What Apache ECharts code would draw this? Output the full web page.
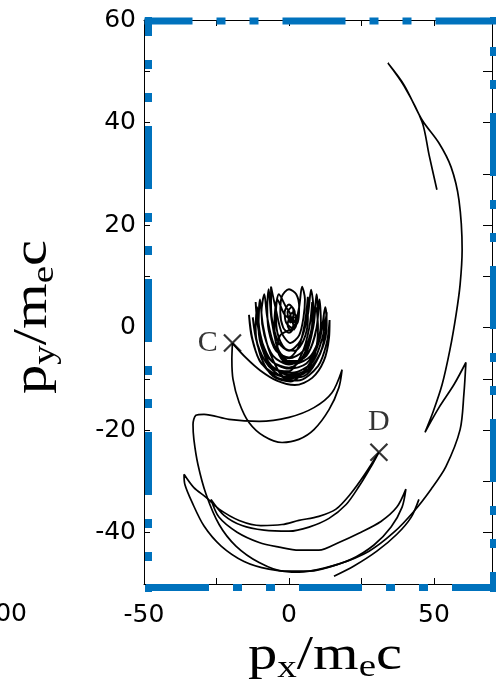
<!DOCTYPE html>
<html>
<head>
<meta charset="utf-8">
<script src="https://cdn.jsdelivr.net/npm/echarts@6/dist/echarts.min.js"></script>
<style>
  html, body { margin: 0; padding: 0; background: #fff; }
  #main { width: 496px; height: 691px; }
</style>
</head>
<body>
<div id="main"></div>
<script>
// tick labels that are printed
const xTicks = [-50, 0, 50]
const yTicks = [-40, -20, 0, 20, 40, 60]

// marked points
const markNames = ['C', 'D']
const markX = [-19.5, 31]
const markY = [-3, -24.3]

// right hand arc, bottom sweep and the crescent back to C
const outerPath = [
  [51.0, 26.9], [48.3, 33.7], [45.9, 40.1], [39.7, 47.1], [34.1, 51.6],
  [39.7, 47.3], [45.9, 40.5], [51.7, 36.0], [55.9, 31.3], [58.6, 24.9],
  [59.7, 15.2], [59.0, 8.4], [57.6, 2.5], [55.5, -4.3], [52.8, -11.1],
  [49.7, -16.4], [46.9, -20.4], [51.7, -15.6], [56.9, -11.1], [61.0, -6.8],
  [60.3, -13.0], [59.0, -19.9], [54.1, -27.1], [49.0, -31.5], [43.1, -35.8],
  [36.2, -39.9], [27.6, -43.6], [17.2, -46.1], [6.9, -47.5], [-1.7, -47.5],
  [-10.3, -45.8], [-18.3, -42.6], [-24.1, -38.4], [-28.6, -32.5], [-31.4, -26.7],
  [-32.8, -21.8], [-33.1, -18.9], [-32.1, -17.1], [-29.3, -16.9], [-20.7, -17.9],
  [-10.3, -18.3], [0, -17.5], [8.6, -15.6], [14.8, -12.7], [18.3, -8.2],
  [17.2, -11.7], [13.8, -16.0], [8.6, -19.9], [3.4, -21.8], [-2.4, -22.4],
  [-8.6, -21.2], [-13.8, -18.5], [-17.2, -14.6], [-19.3, -10.1], [-19.7, -6.2],
  [-19.5, -3]
]

// from C into the swinging loops round the origin
const blobPath = [
  [-19.5, -3], [-14.8, -5.9], [-9.8, -8.4], [-4, -10.4], [2, -11.2], [8, -9.8], [12, -6.5], [13.8, -2], [14, 1.5],
  [13, -3], [10, -7.5], [3, -10.3], [-4, -9.8], [-10, -6.5], [-12.8, -2], [-13.8, 2.5],
  [-12.5, -2.5], [-9.5, -7], [-2, -9.5], [5, -9], [10, -6], [12.5, -1.5], [13, 3],
  [11.5, -2], [8, -6.8], [1, -8.8], [-6, -7.8], [-10.5, -4], [-11.5, 0], [-11, 4],
  [-10, -1], [-7, -6], [0, -8], [6, -7], [9.5, -3.5], [11, 1], [10.5, 5.5],
  [9.5, 0], [6.5, -5], [0, -7.2], [-5.5, -5.5], [-8.5, -1.5], [-9.5, 3], [-8.5, 6.5],
  [-7.5, 2], [-5, -3.5], [0, -6], [5, -4.5], [7.5, -1], [8.5, 3], [7.6, 7.4],
  [6.5, 2.5], [4, -2.5], [0, -4.5], [-3.5, -3], [-5.5, 0.5], [-6.2, 4], [-6.2, 8],
  [-4.5, 3.5], [-2.5, -1], [0.5, -3], [3.5, -1.5], [5, 2], [5.5, 5.5], [4.5, 8],
  [3.5, 4], [2, 0.5], [0, -1], [-2, 0], [-3, 3], [-2.5, 6], [0, 7.5],
  [2.5, 6.5], [3.5, 4], [3, 1], [1, 0], [-1, 1], [-1.5, 3], [0, 4.5],
  [1.5, 3.5], [1.5, 1.5], [0.5, 1], [0, 2], [0.5, 2.5],
  [-1, 4], [-3.5, 6.5], [-4.5, 3], [-4, -1], [-1.5, -4], [2, -4.5], [5, -2.5], [6.5, 1.5], [6.5, 6],
  [5.5, 1], [3.5, -3.5], [0, -5.8], [-4.5, -4.5], [-7, -0.5], [-7.5, 4], [-7, 7.5],
  [-6, 1.5], [-3.5, -4.5], [1, -6.8], [6, -5.5], [9, -1.5], [10, 3], [9.5, 6.5],
  [8.5, 0.5], [5.5, -5.5], [0, -7.8], [-6, -6.5], [-9.5, -2.5], [-11, 1.5], [-11.5, 5],
  [-10.5, -0.5], [-7.5, -6.5], [0, -9.2], [7, -8], [11.5, -4], [13, 0.5], [12.5, 4],
  [11, -1], [7.5, -5.5], [2, -7], [-2, -6.5], [-4, -4], [-3, -1.5], [0, -0.5], [2, 0],
  [1.5, -0.5], [2.5, 0.5], [2, 2], [0.5, 2], [-0.5, 0.5], [0.5, -0.5], [1.5, 0.5], [1, 1.5],
  [2, 3], [1, 4], [-0.5, 3], [0, 1.5], [1.5, 1], [2.5, 2], [1.5, 3], [0.5, 2.5], [1, 1.5],
  [-1.5, 2.5], [-4, 5.5], [-5, 1], [-4.5, -3], [-1, -6.5], [3, -6.5], [6.5, -3.5], [8, 1], [8, 5],
  [7, 0], [4.5, -5], [0, -8.5], [-5, -8], [-9, -4.5], [-10.5, 0], [-10, 5.5],
  [-9, 0.5], [-6.5, -5], [-1, -9.8], [5, -9.5], [9.5, -6.5], [12, -2], [12, 2.5],
  [10.5, -2.5], [6.5, -7.5], [0.5, -10.5], [-5.5, -9.5], [-9.5, -6], [-11.5, -1.5], [-12.5, 2],
  [-11, -3], [-7, -7.5], [0, -10], [6, -8.5], [9, -5], [10, 0], [9.5, 4]
]

// narrow loop on the left, band through D and the lower crescent
const lowerPath = [
  [-36.2, -28.6], [-32.8, -31.2], [-28.6, -33.1], [-24.1, -35.4], [-17.2, -37.6],
  [-9.7, -38.6], [-2.4, -38.4], [3.4, -37.6], [10.3, -36.8], [16.2, -35.4],
  [21.4, -32.3], [25.9, -28.8], [31, -24.3], [28.3, -27.1], [24.1, -31],
  [19.7, -34.5], [13.8, -37.2], [6.9, -38.9], [0, -39.7], [-8.6, -39.5],
  [-16.2, -38.6], [-22.4, -36.6], [-26.9, -33.5], [-24.1, -37], [-17.9, -39.9],
  [-10.3, -41.9], [-3.4, -42.8], [3.4, -43.4], [10.3, -43.4], [17.2, -41.9],
  [24.1, -40.1], [31.7, -37.8], [37.2, -35], [40.3, -31.5], [39, -35],
  [35.2, -38.9], [29.3, -42.4], [21.4, -45.2], [12.1, -46.9], [3.4, -47.7],
  [-6.9, -47.1], [-15.5, -45.6], [-23.4, -42.6], [-29.3, -38.7], [-33.4, -34.1],
  [-35.9, -30.6], [-36.2, -28.6]
]

// loose end at the bottom
const tailPath = [
  [44.8, -33.5], [42.1, -37], [37.2, -40.3], [30.3, -43.6], [22.4, -46.5], [15.5, -48.5]
]

const serif = 'Liberation Serif'
const sans = 'DejaVu Sans'
const blue = '#0072bd'
const dash = [63, 24, 9, 24, 9, 24]

function lineSeries(name, data, width) {
  return {
    name: name,
    type: 'line',
    data: data,
    smooth: 0.3,
    symbol: 'none',
    lineStyle: { color: '#000', width: width },
    animation: false,
    z: 3,
  }
}

// axis title built from pieces so the subscripts sit low (y = centre of each piece, baseline at 0)
function titleParts(sub) {
  const piece = (text, x, y, size) => ({
    type: 'text', x: x, y: y,
    style: { text: text, font: size + 'px ' + serif, fill: '#000', verticalAlign: 'middle' },
  })
  return [
    piece('p', 0, -16.3, 48),
    piece(sub, 24, -4.9, 32),
    piece('/m', 40, -16.3, 48),
    piece('e', 90.7, -5.9, 32),
    piece('c', 104.9, -16.3, 48),
  ]
}

// one side of the blue dash-dot frame
function frameSide(x1, y1, x2, y2, offset) {
  return {
    type: 'line',
    shape: { x1: x1, y1: y1, x2: x2, y2: y2 },
    style: { stroke: blue, lineWidth: 7, lineDash: dash, lineDashOffset: offset },
    z: 100,
    silent: true,
  }
}

const axisCommon = {
  type: 'value',
  axisLine: { show: true, onZero: false, lineStyle: { color: '#000', width: 1 } },
  axisTick: { show: true, inside: true, length: 6, lineStyle: { color: '#000', width: 1 } },
  splitLine: { show: false },
}

const chart = echarts.init(document.getElementById('main'), null, { renderer: 'canvas' })

const option = {
  animation: false,
  backgroundColor: '#fff',
  grid: { left: 144, top: 20, width: 348, height: 564, containLabel: false },
  xAxis: [
    Object.assign({}, axisCommon, {
      min: -50, max: 70, interval: 25, position: 'bottom',
      axisLabel: {
        margin: 19, color: '#000', fontFamily: sans, fontSize: 25,
        showMaxLabel: false,
        formatter: (v) => (xTicks.includes(v) ? String(v) : ''),
      },
    }),
    Object.assign({}, axisCommon, {
      min: -50, max: 70, interval: 25, position: 'top',
      axisLabel: { show: false },
    }),
  ],
  yAxis: [
    Object.assign({}, axisCommon, {
      min: -50, max: 60, interval: 10, position: 'left',
      axisLabel: {
        margin: 8, color: '#000', fontFamily: sans, fontSize: 25,
        formatter: (v) => (yTicks.includes(v) ? String(v) : ''),
      },
    }),
    Object.assign({}, axisCommon, {
      min: -50, max: 60, interval: 10, position: 'right',
      axisTick: { show: true, inside: true, length: 9, lineStyle: { color: '#000', width: 1 } },
      axisLabel: { show: false },
    }),
  ],
  series: [
    lineSeries('outer', outerPath, 1.7),
    lineSeries('blob', blobPath, 1.9),
    lineSeries('lower', lowerPath, 1.7),
    lineSeries('tail', tailPath, 1.7),
    {
      name: 'marks',
      type: 'scatter',
      symbol: 'path://M0,0L10,10M10,0L0,10',
      symbolSize: 17,
      itemStyle: { color: 'transparent', borderColor: '#000', borderWidth: 2.2 },
      data: markNames.map((n, i) => ({
        name: n,
        value: [markX[i], markY[i]],
        label: {
          show: true,
          formatter: n,
          position: i === 0 ? 'left' : 'top',
          distance: i === 0 ? 5 : 6,
          color: '#000',
          fontFamily: serif,
          fontSize: 30,
        },
      })),
      animation: false,
      z: 4,
    },
  ],
  graphic: [
    // blue dash-dot frame laid over the axes box, one side at a time
    frameSide(144.5, 21, 496, 21, 15),
    frameSide(493.5, 17, 493.5, 592, 57),
    frameSide(496, 587.5, 145, 587.5, 19),
    frameSide(148.5, 17, 148.5, 592, 44),
    {
      type: 'group',
      x: 248, y: 673,
      scaleX: 1.22,
      children: titleParts('x'),
    },
    {
      type: 'group',
      x: 50, y: 394,
      rotation: Math.PI / 2,
      scaleX: 1.22,
      children: titleParts('y'),
    },
    // cut-off label of the panel next door
    {
      type: 'text',
      x: 27, y: 602,
      style: { text: '100', font: '25px ' + sans, fill: '#000', textAlign: 'right', textBaseline: 'top' },
    },
  ],
}

chart.setOption(option)
</script>
</body>
</html>
